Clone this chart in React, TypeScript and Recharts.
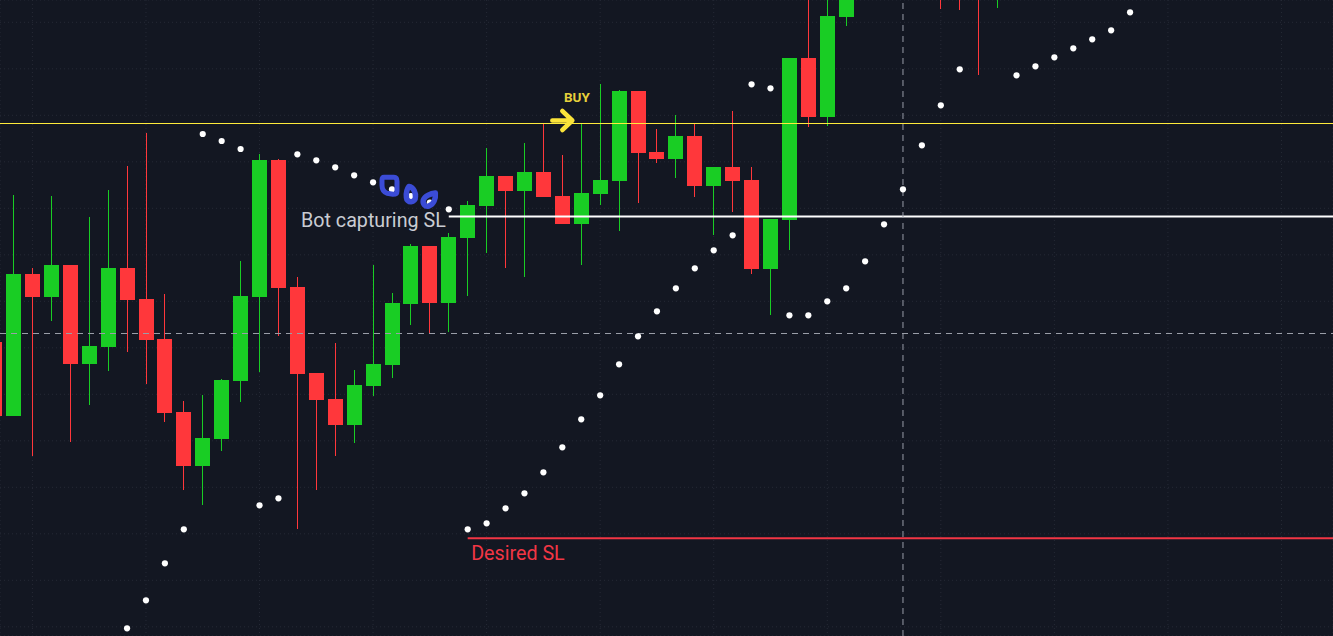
import React from 'react';
import {
  ComposedChart,
  Bar,
  Scatter,
  XAxis,
  YAxis,
  CartesianGrid,
  ReferenceLine,
  ReferenceDot,
} from 'recharts';

// ---- candles (bar index, open, high, low, close) ----
const candleIndex = [-1, 0, 1, 2, 3, 4, 5, 6, 7, 8, 9, 10, 11, 12, 13, 14, 15, 16, 17, 18, 19, 20, 21, 22, 23, 24, 25, 26, 27, 28, 29, 30, 31, 32, 33, 34, 35, 36, 37, 38, 39, 40, 41, 42, 43, 44, 49, 50, 51, 52];
const opens = [294, 220, 362, 339, 371, 272, 289, 368, 337, 297, 224, 170, 197, 255, 339, 476, 349, 263, 237, 211, 250, 271, 332, 390, 333, 398, 430, 460, 445, 464, 440, 412, 442, 455, 545, 484, 477, 500, 450, 469, 456, 367, 416, 578, 519, 619, 700, 690, 700, 650];
const highs = [306, 441, 368, 440, 371, 419, 446, 470, 503, 342, 235, 241, 257, 375, 482, 477, 359, 263, 293, 266, 371, 343, 392, 390, 403, 435, 488, 460, 493, 513, 481, 513, 552, 546, 545, 507, 521, 513, 469, 525, 469, 417, 578, 646, 646, 676, 710, 700, 705, 700];
const lows = [206, 220, 180, 315, 194, 231, 265, 284, 252, 214, 146, 131, 185, 234, 264, 300, 107, 146, 180, 193, 240, 258, 311, 302, 304, 340, 383, 368, 359, 439, 412, 371, 431, 405, 433, 473, 458, 439, 401, 424, 362, 321, 386, 509, 510, 610, 627, 626, 561, 628];
const closes = [220, 362, 339, 371, 272, 290, 368, 336, 296, 223, 170, 198, 256, 340, 476, 348, 262, 236, 211, 251, 272, 333, 390, 333, 399, 431, 460, 445, 464, 439, 412, 443, 456, 545, 483, 477, 500, 450, 469, 455, 367, 417, 578, 519, 620, 656, 660, 655, 650, 690];

// ---- parabolic SAR dots ----
const sarIndex = [6, 7, 8, 9, 10, 11, 12, 13, 14, 15, 16, 17, 18, 19, 20, 21, 22, 23, 24, 25, 26, 27, 28, 29, 30, 31, 32, 33, 34, 35, 36, 37, 38, 39, 40, 41, 42, 43, 44, 45, 46, 47, 48, 49, 50, 53, 54, 55, 56, 57, 58, 59];
const sarValues = [7.7, 35.7, 72.7, 106.7, 502, 495, 487, 130.7, 137.7, 481.7, 475.7, 468.7, 460.7, 453.7, 446.7, 440, 433.5, 426.7, 106.7, 112.7, 127.7, 142.7, 163.7, 188.7, 216.7, 240.7, 271.7, 299.7, 324.7, 347.7, 367.7, 385.7, 400.7, 551.7, 547.7, 320.7, 320.7, 334.7, 347.7, 374.7, 411.7, 446.7, 490.7, 530.7, 566.7, 560.7, 569.7, 578.7, 587.7, 596.7, 605.7, 623.7];

// ---- drawn levels ----
const levelNames = ['', 'Bot capturing SL', 'Desired SL'];
const levelValues = [512.5, 419.5, 97.7];
const levelStarts = [null, 23, 24];
const levelColors = ['#ffeb3b', '#ffffff', '#f23645'];
const buyBar = 29;
const markedSarBars = [20, 21, 22];
const crossX = 47;
const crossY = 302.5;

// ---- view / grid ----
const X_MIN = -0.7133;
const X_MAX = 69.723;
const Y_MIN = 0;
const Y_MAX = 636;
const gridX = [1, 7, 13, 19, 25, 31, 37, 43, 49, 55, 61, 67];
const gridY = [9.2, 55.7, 102.2, 148.7, 195.2, 241.7, 288.2, 334.7, 381.2, 427.7, 474.2, 520.7, 567.2, 613.7];

const GREEN = '#19cd24';
const RED = '#ff373b';
const BG = '#131722';
const BLUE = '#3b4cd6';

const candles = candleIndex.map((i, k) => ({
  i,
  o: opens[k],
  h: highs[k],
  l: lows[k],
  c: closes[k],
}));
const sar = sarIndex.map((i, k) => ({ i, v: sarValues[k] }));
const sarAt = (i: number) => sar.find((d) => d.i === i)!.v;

const CandleShape = (props: any) => {
  const { x, y, width, height, payload } = props;
  if (x == null || y == null || !payload) return null;
  const { o, h, l, c } = payload;
  const up = c >= o;
  const color = up ? GREEN : RED;
  const ratio = h - l !== 0 ? height / (h - l) : 0;
  const top = y + (h - Math.max(o, c)) * ratio;
  const bot = y + (h - Math.min(o, c)) * ratio;
  const cx = x + width / 2;
  return (
    <g>
      <line x1={cx} x2={cx} y1={y} y2={y + height} stroke={color} strokeWidth={1} shapeRendering="crispEdges" />
      <rect x={x} y={top} width={width} height={Math.max(1, bot - top)} fill={color} shapeRendering="crispEdges" />
    </g>
  );
};

const DotShape = (props: any) => {
  const { cx, cy } = props;
  if (cx == null || cy == null) return null;
  return <circle cx={cx} cy={cy} r={3.1} fill="#ffffff" />;
};

const blobPaths = [
  (cx: number, cy: number) =>
    `M ${cx - 8} ${cy - 12} L ${cx + 2} ${cy - 12} Q ${cx + 5} ${cy - 12} ${cx + 5} ${cy - 8} L ${cx + 5} ${cy + 2} Q ${cx + 5} ${cy + 5} ${cx + 1} ${cy + 5} L ${cx - 5} ${cy + 4} Q ${cx - 10} ${cy + 2} ${cx - 10} ${cy - 4} L ${cx - 10} ${cy - 9} Q ${cx - 10} ${cy - 12} ${cx - 8} ${cy - 12} Z`,
  (cx: number, cy: number) =>
    `M ${cx - 2} ${cy - 9.5} C ${cx + 3} ${cy - 9} ${cx + 5} ${cy - 2} ${cx + 4.5} ${cy + 1} A 4.5 4.5 0 0 1 ${cx - 4.5} ${cy + 1.5} C ${cx - 5} ${cy - 3} ${cx - 4} ${cy - 7} ${cx - 2} ${cy - 9.5} Z`,
  (cx: number, cy: number) =>
    `M ${cx + 5.5} ${cy - 9.5} C ${cx + 6} ${cy - 4} ${cx + 4} ${cy + 2} ${cx - 1} ${cy + 3.5} C ${cx - 5} ${cy + 4.5} ${cx - 7.5} ${cy + 1} ${cx - 6.5} ${cy - 2.5} C ${cx - 5} ${cy - 6.5} ${cx + 1} ${cy - 9} ${cx + 5.5} ${cy - 9.5} Z`,
];
const blobStroke = [5, 5.5, 5.5];

const makeBlob = (k: number) => (props: any) => {
  const { cx, cy } = props;
  if (cx == null || cy == null) return <g />;
  return (
    <path d={blobPaths[k](cx, cy)} fill="none" stroke={BLUE} strokeWidth={blobStroke[k]} strokeLinejoin="round" strokeLinecap="round" />
  );
};

const BuyShape = (props: any) => {
  const { cx, cy } = props;
  if (cx == null || cy == null) return <g />;
  const yc = cy - 3;
  return (
    <g>
      <text x={cx + 14.5} y={cy - 21.5} textAnchor="middle" fill="#e6d03b" fontFamily="Roboto, 'Liberation Sans', sans-serif" fontWeight="bold" fontSize={13.5}>
        BUY
      </text>
      <path
        d={`M ${cx - 10} ${yc} L ${cx + 10} ${yc} M ${cx} ${yc - 9.5} L ${cx + 10} ${yc} L ${cx} ${yc + 9.5}`}
        fill="none"
        stroke="#fbe43a"
        strokeWidth={4.5}
        strokeLinecap="round"
        strokeLinejoin="round"
      />
    </g>
  );
};

const LabelShape = (k: number) => (props: any) => {
  const { cx, cy } = props;
  if (cx == null || cy == null) return <g />;
  if (k === 1) {
    return (
      <text x={cx - 3} y={cy + 10} textAnchor="end" fill="#c9ccd3" fontFamily="Roboto, 'Liberation Sans', sans-serif" fontSize={19.7}>
        {levelNames[k]}
      </text>
    );
  }
  return (
    <text x={cx + 3.5} y={cy + 21.7} textAnchor="start" fill={levelColors[k]} fontFamily="Roboto, 'Liberation Sans', sans-serif" fontSize={19.7}>
      {levelNames[k]}
    </text>
  );
};

export default function App() {
  return (
    <div style={{ position: 'fixed', left: 0, top: 0, width: 1333, height: 636, background: BG, overflow: 'hidden' }}>
      <ComposedChart width={1333} height={636} data={candles} margin={{ top: 0, right: 0, bottom: 0, left: 0 }}>
        <CartesianGrid stroke="#262a36" strokeDasharray="1 3" />
        <XAxis type="number" dataKey="i" domain={[X_MIN, X_MAX]} allowDataOverflow hide ticks={gridX} />
        <YAxis type="number" domain={[Y_MIN, Y_MAX]} allowDataOverflow hide ticks={gridY} />
        <Bar dataKey={(d: any) => [d.l, d.h]} barSize={15} shape={CandleShape} isAnimationActive={false} />
        <Scatter data={sar} dataKey="v" shape={DotShape} isAnimationActive={false} />
        {/* entry line */}
        <ReferenceLine y={levelValues[0]} stroke={levelColors[0]} strokeWidth={1} />
        {/* bot SL line */}
        <ReferenceLine
          segment={[{ x: levelStarts[1] as number, y: levelValues[1] }, { x: X_MAX, y: levelValues[1] }]}
          stroke={levelColors[1]}
          strokeWidth={2}
        />
        {/* desired SL line */}
        <ReferenceLine
          segment={[{ x: levelStarts[2] as number, y: levelValues[2] }, { x: X_MAX, y: levelValues[2] }]}
          stroke={levelColors[2]}
          strokeWidth={2}
        />
        {/* crosshair */}
        <ReferenceLine x={crossX} stroke="#9a9ea8" strokeDasharray="6 5" strokeWidth={1} />
        <ReferenceLine y={crossY} stroke="#9a9ea8" strokeDasharray="6 5" strokeWidth={1} />
        <ReferenceDot x={levelStarts[1] as number} y={levelValues[1]} r={0} shape={LabelShape(1)} />
        <ReferenceDot x={levelStarts[2] as number} y={levelValues[2]} r={0} shape={LabelShape(2)} />
        <ReferenceDot x={buyBar} y={levelValues[0]} r={0} shape={BuyShape} />
        {markedSarBars.map((b, k) => (
          <ReferenceDot key={b} x={b} y={sarAt(b)} r={0} shape={makeBlob(k)} />
        ))}
      </ComposedChart>
    </div>
  );
}
